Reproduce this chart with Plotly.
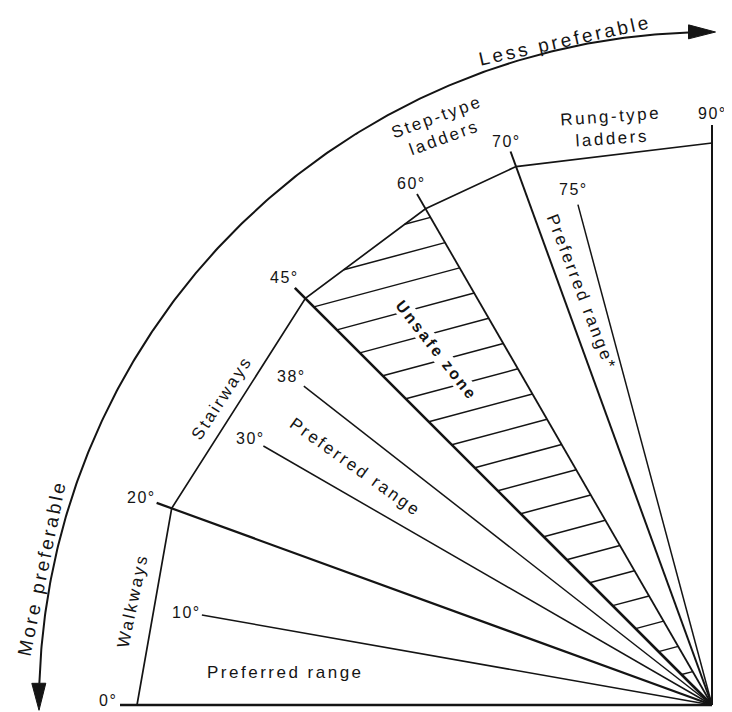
import numpy as np
import plotly.graph_objects as go

# ---------------- data ----------------
line_angles = [0, 10, 20, 30, 38, 45, 60, 70, 75, 90]          # degrees
line_labels = ["0°", "10°", "20°", "30°", "38°", "45°", "60°", "70°", "75°", "90°"]
major_angles = [0, 20, 45, 60, 70, 90]
minor_angles = [10, 30, 38, 75]
outline_angles = [0, 20, 45, 60, 70, 90]
unsafe_from, unsafe_to = 45, 60
zone_texts = ["Walkways", "Stairways", "Step-type<br>ladders", "Rung-type<br>ladders",
              "Unsafe zone", "Preferred range", "Preferred range", "Preferred range*"]
arrow_texts = ["Less preferable", "More preferable"]

# ---------------- geometry / style ----------------
R_LINE = {0: 592, 10: 518, 20: 591, 30: 518, 38: 518, 45: 590, 60: 590, 70: 589, 75: 518, 90: 580}
R_OUT = {0: 575, 20: 575, 45: 575, 60: 573, 70: 573, 90: 562}
W_LINE = {0: 2.4, 10: 1.5, 20: 2.2, 30: 1.5, 38: 1.5, 45: 2.6, 60: 1.8, 70: 2.0, 75: 1.5, 90: 2.0}
R_LAB = {0: 604, 10: 534, 20: 607, 30: 533, 38: 534, 45: 605, 60: 602, 70: 600, 75: 534, 90: 592}
LAB_DTH = {0: 0.45}   # small angular nudge of a label away from the page edge
ARC_R = 673
ARC_START, ARC_END = -0.45, 90.3
ARROW_L, ARROW_HW = 27, 7
HATCH_FIRST, HATCH_STEP, HATCH_N, HATCH_DIR = 628.0, 32.5, 19, 15.0

# zone label placement (theta deg, radius, textangle, size, bold)
zone_pos = [(10.26, 589, -78, 17, False), (32.1, 578, -57, 17, False),
            (64.8, 638, -20, 17, False), (80.1, 586, -4, 17, False),
            (52.2, 449, 52, 16, True), (33.7, 428, 35.5, 17, False),
            (4.4, 428, 0, 17, False), (72.5, 433, 69, 17, False)]
arrow_pos = [(77.5, 681, -12.5), (11.6, 684, -78.4)]

INK = "#141414"
FONT = "Liberation Sans, Arial, Helvetica, sans-serif"
PAGE_OFFSET = 8  # default body margin of the html page


def pol(theta, r):
    t = np.radians(theta)
    return -r * np.cos(t), r * np.sin(t)


def spaced(text, ls):
    return "<br>".join(f'<span style="letter-spacing:{ls}px">{ln}</span>' for ln in text.split("<br>"))


fig = go.Figure()

# radial lines
for a in line_angles:
    x1, y1 = pol(a, R_LINE[a])
    fig.add_trace(go.Scatter(x=[0, x1], y=[0, y1], mode="lines",
                             line=dict(color=INK, width=W_LINE[a]), hoverinfo="skip"))

# outline polygon
ox, oy = zip(*[pol(a, R_OUT[a]) for a in outline_angles])
fig.add_trace(go.Scatter(x=list(ox), y=list(oy), mode="lines",
                         line=dict(color=INK, width=1.7), hoverinfo="skip"))


# hatch of unsafe zone
def solve(p, u, q, v):
    # p + s u = q + t v
    M = np.array([[u[0], -v[0]], [u[1], -v[1]]])
    s, t = np.linalg.solve(M, np.array(q) - np.array(p))
    return s, t


v45 = np.array(pol(unsafe_from, 1))
v60 = np.array(pol(unsafe_to, 1))
V45 = np.array(pol(unsafe_from, R_OUT[unsafe_from]))
V60 = np.array(pol(unsafe_to, R_OUT[unsafe_to]))
u = np.array([np.cos(np.radians(HATCH_DIR)), np.sin(np.radians(HATCH_DIR))])
hx, hy = [], []
for k in range(HATCH_N):
    d = HATCH_FIRST - k * HATCH_STEP
    A = d * v45
    if d <= R_OUT[unsafe_from]:
        start = A
    else:
        s, w = solve(A, u, V45, V60 - V45)
        if not (0 <= w <= 1):
            continue
        start = A + s * u
    s2, t2 = solve(A, u, np.zeros(2), v60)
    end = A + s2 * u
    hx += [start[0], end[0], None]
    hy += [start[1], end[1], None]
fig.add_trace(go.Scatter(x=hx, y=hy, mode="lines", line=dict(color=INK, width=1.5),
                         hoverinfo="skip"))

# arc with arrowheads
dang = np.degrees(ARROW_L / ARC_R)
th = np.radians(np.linspace(ARC_START + dang, ARC_END - dang, 300))
fig.add_trace(go.Scatter(x=-ARC_R * np.cos(th), y=ARC_R * np.sin(th), mode="lines",
                         line=dict(color=INK, width=2), hoverinfo="skip"))
for tip_deg, sign in [(ARC_END, 1), (ARC_START, -1)]:
    t = np.radians(tip_deg)
    tip = np.array(pol(tip_deg, ARC_R))
    tan = sign * np.array([np.sin(t), np.cos(t)])
    nrm = np.array([-tan[1], tan[0]])
    base = tip - ARROW_L * tan
    pts = [tip, base + ARROW_HW * nrm, base - ARROW_HW * nrm, tip]
    fig.add_trace(go.Scatter(x=[p[0] for p in pts], y=[p[1] for p in pts], mode="lines",
                             fill="toself", fillcolor=INK, line=dict(color=INK, width=1),
                             hoverinfo="skip"))

# degree labels
for a, lab in zip(line_angles, line_labels):
    x, y = pol(a + LAB_DTH.get(a, 0), R_LAB[a])
    fig.add_annotation(x=x, y=y, text=spaced(lab, 1.5), showarrow=False,
                       xanchor="center", yanchor="middle",
                       font=dict(family=FONT, size=16, color=INK))

# zone labels
for txt, (th_, r_, ang, sz, bold) in zip(zone_texts, zone_pos):
    x, y = pol(th_, r_)
    t = spaced(txt, 2.5)
    if bold:
        t = "<b>" + t + "</b>"
    fig.add_annotation(x=x, y=y, text=t, showarrow=False, textangle=ang,
                       xanchor="center", yanchor="middle",
                       bgcolor="white" if bold else None, borderpad=0,
                       font=dict(family=FONT, size=sz, color=INK))

# arrow texts
for txt, (th_, r_, ang) in zip(arrow_texts, arrow_pos):
    x, y = pol(th_, r_)
    fig.add_annotation(x=x, y=y, text=spaced(txt, 3), showarrow=False, textangle=ang,
                       xanchor="center", yanchor="middle",
                       font=dict(family=FONT, size=19, color=INK))

fig.update_layout(width=732, height=712, margin=dict(l=0, r=0, t=0, b=0),
                  paper_bgcolor="white", plot_bgcolor="white", showlegend=False,
                  xaxis=dict(range=[-712 + PAGE_OFFSET, 20 + PAGE_OFFSET], visible=False, fixedrange=True),
                  yaxis=dict(range=[-7 - PAGE_OFFSET, 705 - PAGE_OFFSET], visible=False, fixedrange=True))

fig.write_html("out.html")
